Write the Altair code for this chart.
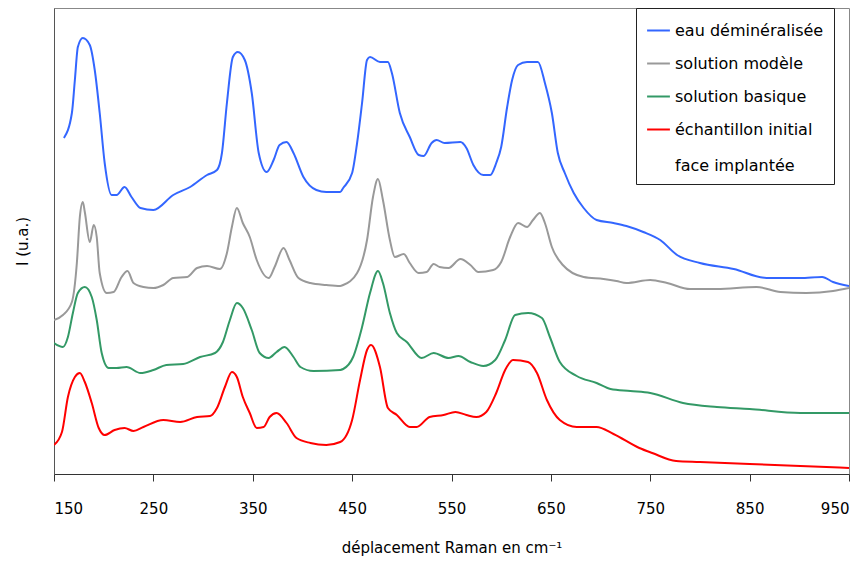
import altair as alt
import pandas as pd

# Raman shift (cm-1) and intensity (arbitrary units, stacked offsets as plotted)
eau_x = [160, 168, 171, 174, 179, 186, 191, 196, 201, 208, 213, 221, 228, 237, 250, 270, 287, 304, 314, 319,
         324, 330, 335, 342, 349, 356, 364, 371, 377, 384, 391, 401, 414, 424, 438, 441, 450, 455, 460, 465,
         468, 478, 486, 490, 498, 508, 517, 522, 530, 535, 543, 559, 565, 572, 582, 589, 595, 600, 606, 611,
         617, 626, 637, 644, 651, 657, 664, 673, 683, 696, 713, 726, 743, 760, 777, 800, 834, 867, 901, 923,
         934, 950]
eau_y = [336, 361, 394, 427, 436, 429, 404, 361, 311, 279, 279, 287, 277, 266, 264, 279, 287, 299, 304, 321,
         371, 417, 422, 414, 381, 321, 302, 314, 329, 332, 321, 297, 284, 282, 282, 286, 301, 331, 371, 414,
         417, 412, 412, 401, 361, 337, 319, 318, 331, 334, 331, 332, 326, 309, 299, 299, 311, 327, 367, 394,
         409, 412, 412, 391, 361, 321, 301, 281, 266, 254, 251, 248, 242, 234, 219, 211, 205, 196, 196, 197,
         192, 188]

mod_x = [150, 159, 168, 173, 176, 179, 181, 186, 190, 193, 196, 203, 210, 218, 224, 230, 240, 250, 260, 270,
         284, 294, 304, 317, 324, 329, 334, 340, 347, 354, 366, 372, 381, 387, 396, 408, 424, 438, 441, 455,
         465, 471, 476, 481, 488, 493, 502, 508, 517, 525, 532, 538, 547, 559, 569, 577, 592, 600, 609, 617,
         626, 632, 639, 644, 651, 662, 683, 703, 716, 726, 750, 767, 790, 817, 857, 881, 907, 934, 950]
mod_y = [154, 159, 172, 211, 257, 272, 262, 232, 249, 237, 201, 181, 182, 197, 203, 191, 187, 186, 189, 196,
         197, 206, 208, 205, 221, 247, 266, 251, 237, 214, 196, 207, 226, 214, 196, 191, 189, 188, 189, 201,
         234, 277, 295, 274, 234, 217, 220, 211, 201, 202, 210, 207, 206, 215, 209, 202, 204, 212, 237, 251,
         247, 254, 261, 251, 227, 209, 197, 195, 193, 191, 194, 191, 185, 185, 187, 182, 181, 183, 186]

bas_x = [150, 159, 164, 169, 174, 181, 188, 193, 198, 205, 213, 223, 237, 250, 263, 280, 297, 312, 320, 327,
         334, 340, 349, 357, 366, 374, 382, 391, 398, 411, 438, 441, 451, 460, 468, 476, 481, 488, 495, 505,
         520, 532, 547, 557, 569, 582, 594, 604, 614, 627, 641, 649, 659, 676, 696, 710, 730, 750, 783, 817,
         850, 901, 950]
bas_y = [131, 127, 137, 161, 181, 187, 177, 154, 121, 106, 106, 107, 101, 104, 109, 110, 117, 121, 132, 154,
         171, 166, 144, 121, 116, 122, 127, 117, 107, 103, 104, 105, 117, 147, 181, 203, 191, 161, 141, 132,
         116, 121, 116, 118, 112, 108, 114, 134, 159, 161, 156, 137, 112, 98, 91, 85, 83, 81, 71, 67,
         65, 61, 61]

ech_x = [150, 158, 164, 171, 176, 181, 188, 195, 201, 211, 221, 230, 240, 260, 277, 294, 307, 314, 322, 329,
         334, 340, 347, 354, 361, 367, 374, 384, 394, 408, 424, 438, 450, 458, 465, 469, 478, 486, 495, 508,
         515, 528, 542, 554, 565, 575, 585, 595, 604, 612, 627, 636, 646, 659, 676, 696, 713, 739, 752, 776,
         800, 850, 901, 950]
ech_y = [29, 42, 77, 97, 101, 92, 71, 46, 39, 44, 46, 43, 47, 54, 52, 57, 58, 66, 87, 102,
         97, 77, 61, 46, 47, 57, 61, 51, 36, 31, 29, 32, 54, 94, 124, 129, 107, 66, 59, 47,
         47, 57, 59, 62, 59, 57, 62, 81, 104, 114, 112, 101, 74, 54, 47, 47, 40, 26, 21, 13,
         12, 10, 8, 6]

series_names = ["eau déminéralisée", "solution modèle", "solution basique",
                "échantillon initial\nface implantée"]
series_colors = ["#3366ff", "#999999", "#339966", "#ff0000"]
series_x = [eau_x, mod_x, bas_x, ech_x]
series_y = [eau_y, mod_y, bas_y, ech_y]

frames = []
for name, xs, ys in zip(series_names, series_x, series_y):
    frames.append(pd.DataFrame({"x": xs, "y": ys, "serie": name, "ordre": range(len(xs))}))
df = pd.concat(frames, ignore_index=True)

FONT = "DejaVu Sans"
BLANK = "\u2800"

chart = (
    alt.Chart(df)
    .mark_line(strokeWidth=2, clip=True, interpolate="monotone")
    .encode(
        x=alt.X("x:Q",
                scale=alt.Scale(domain=[150, 950], nice=False, zero=False),
                axis=alt.Axis(values=[150, 250, 350, 450, 550, 650, 750, 850, 950],
                              title="déplacement Raman en cm⁻¹",
                              grid=False, tickSize=7, tickColor="#333333",
                              domainColor="#333333", labelFontSize=15, labelPadding=20,
                              labelFont=FONT, titleFont=FONT, titleFontSize=15,
                              titleFontWeight="normal", titlePadding=24,
                              labelColor="#000000", titleColor="#000000")),
        y=alt.Y("y:Q",
                scale=alt.Scale(domain=[0, 466], nice=False),
                axis=alt.Axis(title="I (u.a.)", labels=False, ticks=False, grid=False,
                              domainColor="#555555", titleFont=FONT, titleFontSize=15,
                              titleFontWeight="normal", titleColor="#000000",
                              titlePadding=24)),
        color=alt.Color("serie:N",
                        scale=alt.Scale(domain=series_names, range=series_colors),
                        legend=alt.Legend(title=None, orient="none", legendX=582, legendY=0,
                                          symbolType="stroke", symbolStrokeWidth=2,
                                          symbolSize=520, labelFont=FONT, labelFontSize=16,
                                          labelColor="#000000", labelLimit=300,
                                          labelExpr="split(replace(datum.label, '\\n', '\\n" + BLANK + "\\n'), '\\n')",
                                          rowPadding=12, padding=10,
                                          strokeColor="#222222", fillColor="white",
                                          labelOffset=4)),
        order="ordre:Q",
        detail="serie:N",
    )
    .properties(width=795, height=466,
                padding={"left": 46, "top": 0, "right": 10, "bottom": 82},
                autosize=alt.AutoSizeParams(type="none"))
    .configure_view(stroke="#888888", strokeWidth=1)
)

chart.save("out.html", embed_options={"renderer": "svg", "actions": False})
